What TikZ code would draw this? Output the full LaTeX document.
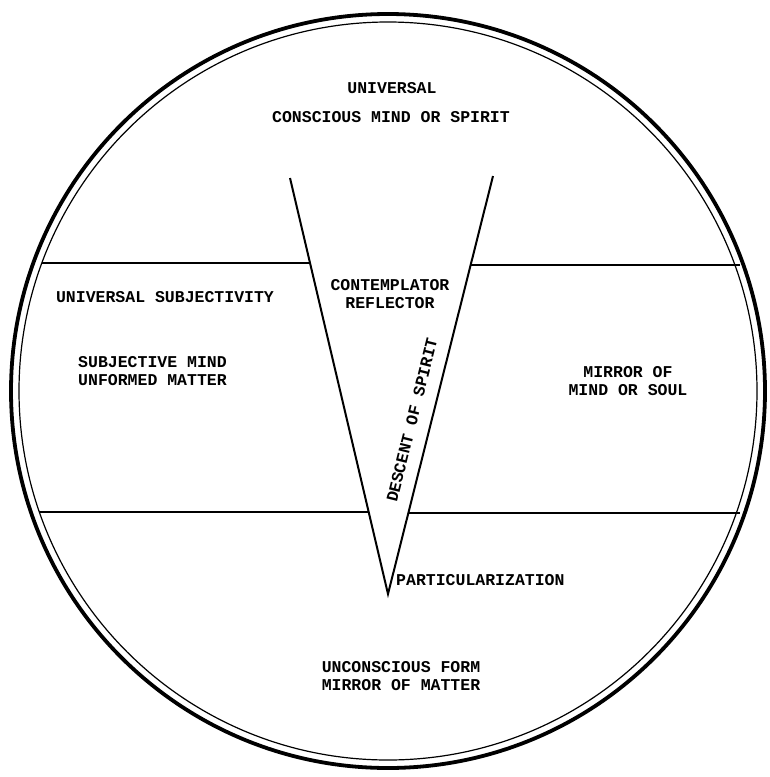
\documentclass[tikz,border=0pt]{standalone}
\usepackage{fontspec}
\newfontfamily\tw{Liberation Mono}
\begin{document}
\begin{tikzpicture}[x=1pt,y=-1pt,
  lbl/.style={font=\tw\bfseries\fontsize{16.5}{18}\selectfont, inner sep=0pt, align=center},
  rim/.style={line width=3.8pt},
  rimin/.style={line width=1.2pt},
  band/.style={line width=1.6pt},
  vee/.style={line width=2pt, line join=miter}]
\useasboundingbox (0,0) rectangle (769,777);
\fill[white] (0,0) rectangle (769,777);
\coordinate (c) at (388,391);
\draw[rim] (c) circle[radius=377pt];
\draw[rimin] (c) circle[radius=369pt];
% the V
\coordinate (vl) at (290,178);
\coordinate (vr) at (493,176);
\coordinate (apex) at (388,594);
\draw[vee] (vl) -- (apex) -- (vr);
% bands
\coordinate (a1) at (42,263);
\coordinate (a2) at (310,263);
\coordinate (b1) at (470.6,265);
\coordinate (b2) at (740,265);
\coordinate (d1) at (39,512);
\coordinate (d2) at (368.7,512);
\coordinate (e1) at (408.3,513);
\coordinate (e2) at (740,513);
\draw[band] (a1) -- (a2);
\draw[band] (b1) -- (b2);
\draw[band] (d1) -- (d2);
\draw[band] (e1) -- (e2);
% labels
\node[lbl] (t1) at (392,88) {UNIVERSAL};
\node[lbl] (t2) at (391,117) {CONSCIOUS MIND OR SPIRIT};
\node[lbl] (t3) at (165,297) {UNIVERSAL SUBJECTIVITY};
\node[lbl, align=left, anchor=west] (t4) at (78,371) {SUBJECTIVE MIND\\UNFORMED MATTER};
\node[lbl] (t5) at (390,294) {CONTEMPLATOR\\REFLECTOR};
\node[lbl, rotate=76] (t6) at (412,420) {DESCENT OF SPIRIT};
\node[lbl] (t7) at (628,381) {MIRROR OF\\MIND OR SOUL};
\node[lbl, anchor=west] (t8) at (396,580) {PARTICULARIZATION};
\node[lbl] (t9) at (401,676) {UNCONSCIOUS FORM\\MIRROR OF MATTER};
\end{tikzpicture}
\end{document}
